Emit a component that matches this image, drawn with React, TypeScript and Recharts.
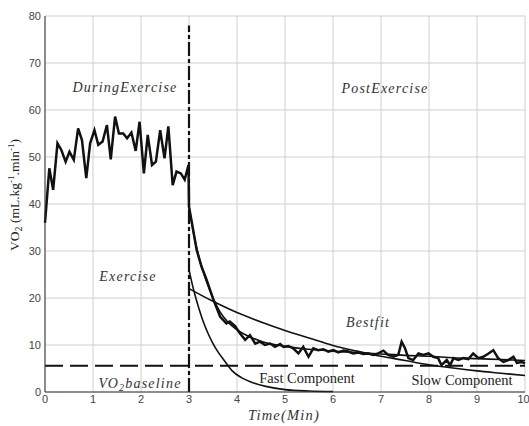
import { LineChart, Line, XAxis, YAxis, CartesianGrid, ReferenceLine } from "recharts";

// measured VO2 during exercise (min, mL/kg/min)
const exerciseTime = [
  0, 0.09, 0.17, 0.26, 0.34, 0.43, 0.51, 0.6, 0.69, 0.77, 0.86, 0.94, 1.03, 1.11, 1.2, 1.29, 1.37, 1.46,
  1.54, 1.63, 1.71, 1.8, 1.89, 1.97, 2.06, 2.14, 2.23, 2.31, 2.4, 2.49, 2.57, 2.66, 2.74, 2.83, 2.91, 2.99,
];
const exerciseVo2 = [
  36, 47.6, 43, 52.9, 51.5, 49, 51.1, 49.4, 56.1, 53.6, 45.5, 52.9, 55.7, 52.6, 53.3, 56.8, 49.5, 58.6,
  55, 55, 54, 55.2, 51.3, 57.5, 46.5, 54.7, 48.3, 49, 55.7, 49.7, 56.5, 44, 46.9, 46.5, 45.2, 48.3,
];

// measured VO2 during recovery
const recoveryTime = [
  3.0, 3.05, 3.16, 3.26, 3.37, 3.51, 3.65, 3.78, 3.85, 3.96, 4.06, 4.17, 4.27, 4.38, 4.48, 4.58, 4.69,
  4.79, 4.9, 4.97, 5.07, 5.17, 5.28, 5.38, 5.49, 5.59, 5.69, 5.8, 5.9, 6.01, 6.11, 6.22, 6.32, 6.42,
  6.53, 6.63, 6.74, 6.84, 6.94, 7.05, 7.15, 7.26, 7.36, 7.43, 7.5, 7.57, 7.67, 7.78, 7.88, 7.99, 8.09,
  8.19, 8.26, 8.37, 8.44, 8.51, 8.61, 8.72, 8.82, 8.92, 9.03, 9.13, 9.24, 9.34, 9.44, 9.55, 9.65, 9.76,
  9.83, 9.93, 10.0,
];
const recoveryVo2 = [
  39.4, 36.6, 30.2, 26.7, 23.8, 19.6, 16.0, 14.6, 15.0, 14.0, 12.5, 11.1, 12.1, 10.3, 10.7, 10.0, 10.3,
  9.6, 10.2, 9.6, 9.8, 9.3, 8.2, 9.6, 7.5, 9.3, 8.9, 9.1, 8.6, 8.9, 8.4, 8.8, 8.6, 8.2,
  8.4, 8.1, 8.2, 7.9, 8.2, 8.8, 7.9, 7.5, 7.9, 10.7, 9.3, 7.2, 6.8, 8.2, 7.9, 8.2, 7.5,
  7.2, 5.7, 6.8, 5.7, 7.2, 6.8, 7.2, 7.0, 8.2, 7.2, 7.5, 8.2, 8.9, 7.2, 6.4, 6.8, 7.5,
  6.2, 6.4, 6.1,
];

// best fit curve
const fitTime = [3.0, 3.1, 3.2, 3.3, 3.4, 3.5, 3.65, 3.8, 4.0, 4.25, 4.5, 5.0, 5.5, 6.0, 6.5, 7.0, 7.5, 8.0, 8.5, 9.0, 9.5, 10.0];
const bestFit = [39.5, 33.5, 29, 25.5, 22.5, 20, 17, 15, 13.2, 11.8, 10.8, 9.7, 9.1, 8.7, 8.4, 8.1, 7.8, 7.6, 7.3, 7.1, 6.9, 6.7];

// fast component
const fastTime = [3.0, 3.1, 3.2, 3.3, 3.4, 3.5, 3.6, 3.75, 3.9, 4.1, 4.3, 4.6, 5.0, 5.5, 6.0];
const fastVo2 = [26, 21.6, 18.0, 14.9, 12.4, 10.3, 8.6, 6.5, 4.5, 3.0, 2.1, 1.2, 0.5, 0.2, 0.1];

// slow component
const slowTime = [3.0, 3.5, 4.0, 4.5, 5.0, 5.5, 6.0, 6.5, 7.0, 7.5, 8.0, 8.5, 9.0, 9.5, 10.0];
const slowVo2 = [22, 19.3, 16.9, 14.9, 13.1, 11.5, 9.9, 8.7, 7.6, 6.7, 5.8, 5.1, 4.5, 4.0, 3.5];

const baseline = 5.6;
const exerciseEnd = 3;
const xTicks = [0, 1, 2, 3, 4, 5, 6, 7, 8, 9, 10];
const yTicks = [0, 10, 20, 30, 40, 50, 60, 70, 80];

const zip = (t: number[], v: number[]) => t.map((x, i) => ({ t: x, v: v[i] }));

const W = 529;
const H = 426;
const mathFont = "'Liberation Serif', 'DejaVu Serif', serif";

export default function App() {
  const measured = [...zip(exerciseTime, exerciseVo2), ...zip(recoveryTime, recoveryVo2)];
  const tick = { fontSize: 11, fill: "#444", fontFamily: "'Liberation Sans', Arial, sans-serif" };

  return (
    <div style={{ position: "absolute", left: 0, top: 0, width: W, height: H, background: "#fff" }}>
      <LineChart width={W} height={H} margin={{ top: 16, right: 4, bottom: 0, left: 0 }}>
        <CartesianGrid stroke="#cfcfcf" strokeWidth={1} />
        <XAxis
          type="number"
          dataKey="t"
          domain={[0, 10]}
          ticks={xTicks}
          height={34}
          tickLine={false}
          tickSize={2}
          tickMargin={1}
          axisLine={{ stroke: "#333" }}
          tick={tick}
        />
        <YAxis
          type="number"
          domain={[0, 80]}
          ticks={yTicks}
          width={45}
          tickLine={false}
          tickSize={2}
          tickMargin={2}
          axisLine={{ stroke: "#333" }}
          tick={tick}
        />
        <ReferenceLine y={baseline} stroke="#111" strokeWidth={2} strokeDasharray="18 7" />
        <ReferenceLine
          segment={[{ x: exerciseEnd, y: 0 }, { x: exerciseEnd, y: 78 }]}
          stroke="#111"
          strokeWidth={2.2}
          strokeDasharray="14 3 4 3"
        />
        <Line data={zip(fastTime, fastVo2)} dataKey="v" type="monotone" stroke="#111" strokeWidth={1.6} dot={false} isAnimationActive={false} />
        <Line data={zip(slowTime, slowVo2)} dataKey="v" type="monotone" stroke="#111" strokeWidth={1.6} dot={false} isAnimationActive={false} />
        <Line data={zip(fitTime, bestFit)} dataKey="v" type="monotone" stroke="#111" strokeWidth={1.6} dot={false} isAnimationActive={false} />
        <Line data={measured} dataKey="v" type="linear" stroke="#111" strokeWidth={2.5} dot={false} isAnimationActive={false} />
      </LineChart>

      <svg width={W} height={H} style={{ position: "absolute", left: 0, top: 0, pointerEvents: "none" }}>
        <g fontFamily={mathFont} fontStyle="italic" fontSize={14} fill="#333" textAnchor="middle" letterSpacing={1.2}>
          <text x={125} y={92}>DuringExercise</text>
          <text x={385} y={93}>PostExercise</text>
          <text x={128} y={281}>Exercise</text>
          <text x={368} y={327}>Bestfit</text>
          <text x={140} y={388}>
            VO<tspan fontSize={10} dy={3}>2</tspan>
            <tspan dy={-3}>baseline</tspan>
          </text>
          <text x={284} y={420} fontSize={14.5}>Time(Min)</text>
        </g>
        <g fontFamily={mathFont} fontSize={14.5} fill="#222" textAnchor="middle">
          <text x={307} y={383}>Fast Component</text>
          <text x={462} y={385}>Slow Component</text>
        </g>
        <text
          transform="translate(19 195) rotate(-90)"
          fontFamily={mathFont}
          fontSize={13.5}
          fill="#222"
          textAnchor="middle"
        >
          VO<tspan fontSize={10} dy={3}>2</tspan>
          <tspan dy={-3}> (mL.kg</tspan>
          <tspan fontSize={9} dy={-5}>-1</tspan>
          <tspan dy={5}>.min</tspan>
          <tspan fontSize={9} dy={-5}>-1</tspan>
          <tspan dy={5}>)</tspan>
        </text>
      </svg>
    </div>
  );
}
